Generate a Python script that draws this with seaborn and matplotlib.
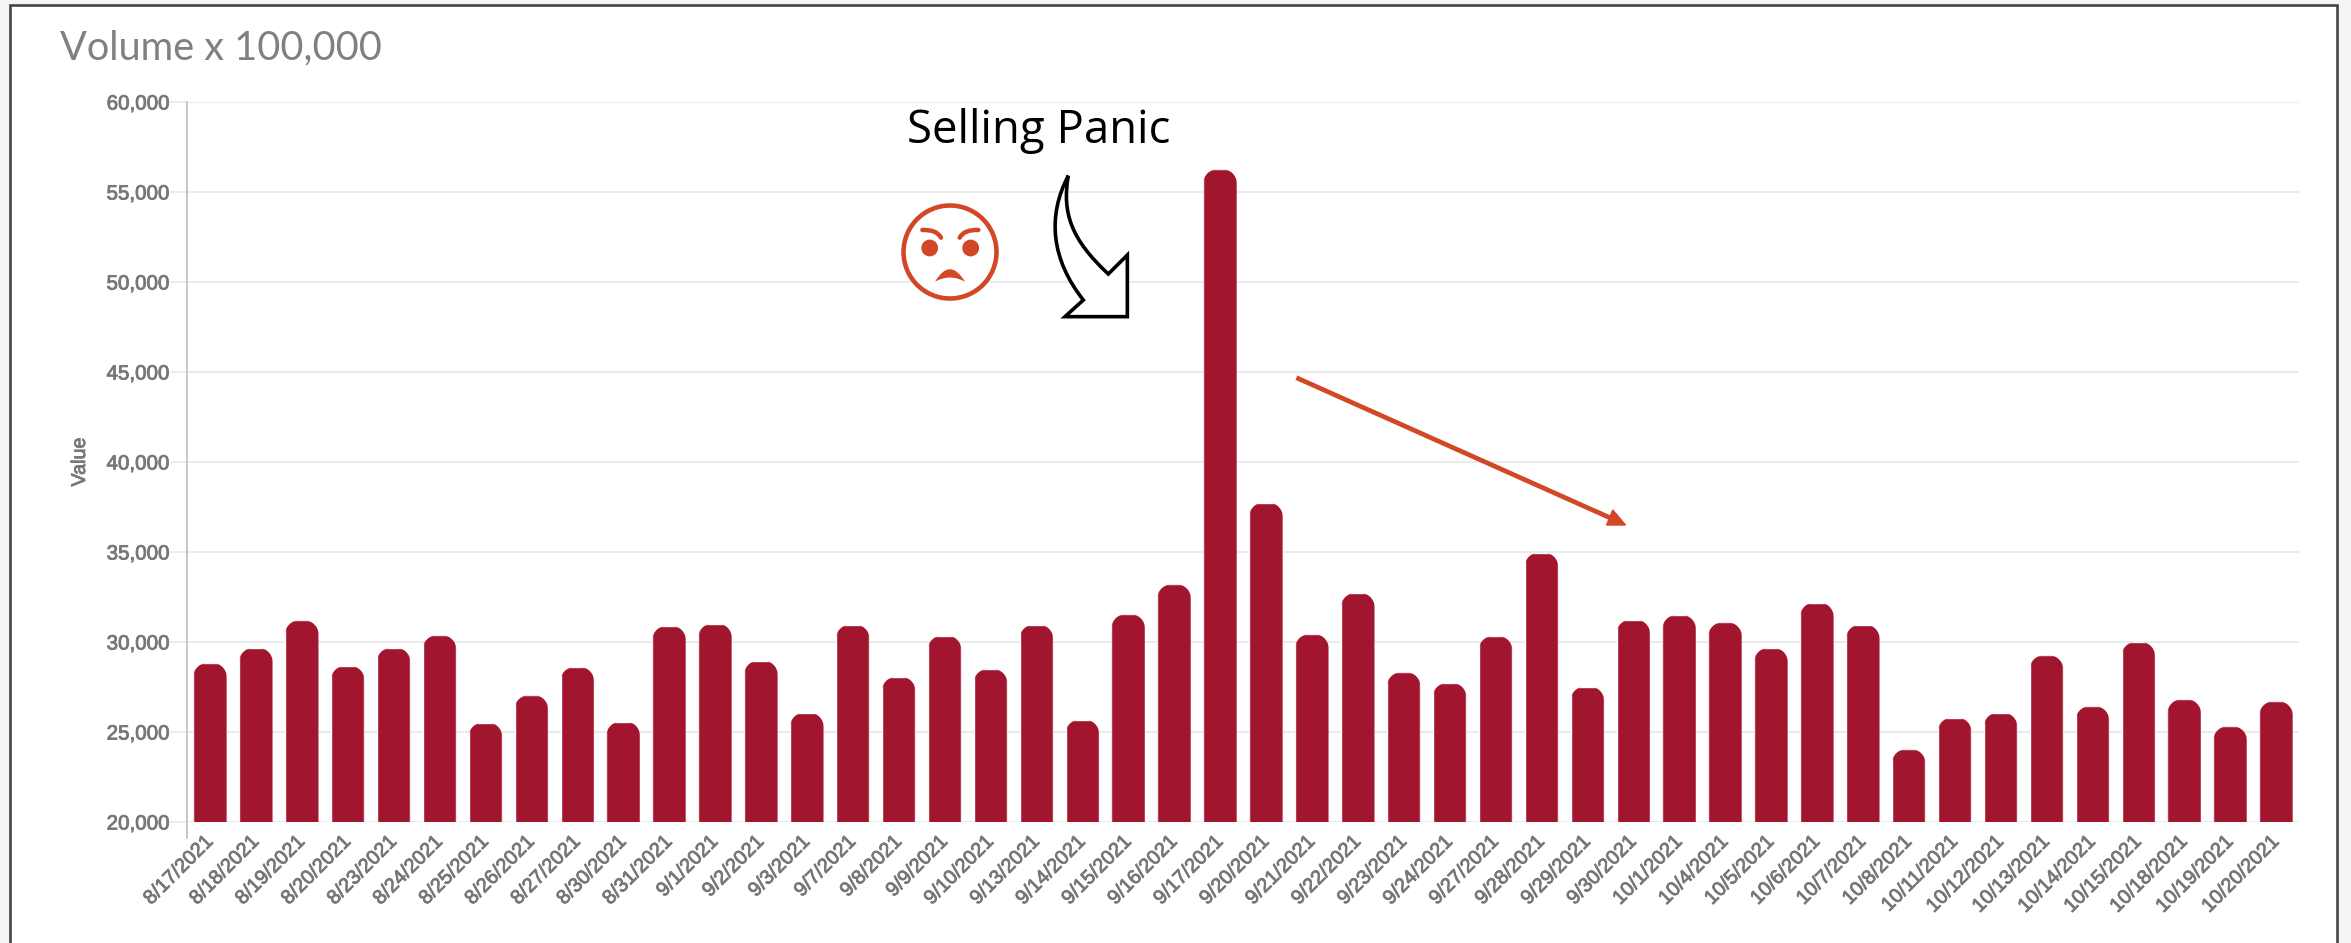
import matplotlib
matplotlib.use("Agg")
import matplotlib.pyplot as plt
import matplotlib.patheffects as pe
import seaborn as sns
import pandas as pd
from matplotlib.path import Path
from matplotlib.patches import PathPatch, Circle, Rectangle, Polygon
from matplotlib.ticker import FuncFormatter

dates = ["8/17/2021","8/18/2021","8/19/2021","8/20/2021","8/23/2021","8/24/2021","8/25/2021","8/26/2021",
         "8/27/2021","8/30/2021","8/31/2021","9/1/2021","9/2/2021","9/3/2021","9/7/2021","9/8/2021",
         "9/9/2021","9/10/2021","9/13/2021","9/14/2021","9/15/2021","9/16/2021","9/17/2021","9/20/2021",
         "9/21/2021","9/22/2021","9/23/2021","9/24/2021","9/27/2021","9/28/2021","9/29/2021","9/30/2021",
         "10/1/2021","10/4/2021","10/5/2021","10/6/2021","10/7/2021","10/8/2021","10/11/2021","10/12/2021",
         "10/13/2021","10/14/2021","10/15/2021","10/18/2021","10/19/2021","10/20/2021"]
volume = [28830,29670,31200,28670,29670,30370,25520,27040,
          28610,25575,30890,31020,28960,26070,30960,28060,
          30350,28500,30960,25685,31540,33200,56260,37740,
          30430,32720,28315,27720,30330,34960,27520,31240,
          31500,31090,29670,32185,30960,24040,25800,26070,
          29260,26430,30000,26815,25315,26700]
y_ticks = [20000,25000,30000,35000,40000,45000,50000,55000,60000]

W, H = 2351, 943
GREY = "#777777"
BAR = "#A2152F"
ORANGE = "#D24726"

sns.set_theme(style="white")
plt.rcParams["font.family"] = ["Liberation Sans", "DejaVu Sans"]

fig = plt.figure(figsize=(W/100, H/100), dpi=100, facecolor="#f5f5f5")

back = fig.add_axes([0, 0, 1, 1], zorder=-1)
back.set_xlim(0, W); back.set_ylim(H, 0); back.axis("off")
back.add_patch(Rectangle((9.5, 4.5), 2337-9.5, H, facecolor="white", edgecolor="#454545", linewidth=1.9))

L, R, T, B = 187, 2299, 102, 822
ax = fig.add_axes([L/W, 1-B/H, (R-L)/W, (B-T)/H], zorder=1)
ax.patch.set_alpha(0)
df = pd.DataFrame({"date": dates, "volume": volume})
sns.barplot(data=df, x="date", y="volume", color=BAR, saturation=1, width=0.73, ax=ax, zorder=3)
ax.set_xlim(-0.5, len(dates)-0.5)
ax.set_ylim(20000, 60000)
ax.set_yticks(y_ticks)
ax.yaxis.set_major_formatter(FuncFormatter(lambda v, _: f"{int(v):,}"))
ax.grid(axis="y", color="#ebebeb", linewidth=1.5, zorder=0)
ax.set_axisbelow(True)
for s in ax.spines.values():
    s.set_visible(False)
ax.tick_params(axis="y", length=12.5, width=1.3, color="#ebebeb", pad=0, labelsize=14.8, labelcolor=GREY, left=True)
ax.tick_params(axis="x", length=0, pad=12, labelsize=14.4, labelcolor=GREY, bottom=False)
ax.set_xticks(range(len(dates)))
ax.set_xticklabels(dates, rotation=45, ha="right", va="center", rotation_mode="anchor")
ax.set_xlabel("")
ax.set_ylabel("Value", fontsize=14.2, color=GREY, fontweight="normal")
ax.yaxis.set_label_coords((89-L)/(R-L), (B-462)/(B-T))
bold = [pe.withStroke(linewidth=0.6, foreground=GREY)]
for t in ax.get_xticklabels() + ax.get_yticklabels() + [ax.yaxis.label]:
    t.set_path_effects(bold)

px_x = (R-L)/len(dates)
px_y = (B-T)/40000
r = 14
for rect in ax.patches:
    x0, w, top = rect.get_x(), rect.get_width(), rect.get_height()
    rx, ry = r/px_x, r/px_y
    k = 0.45
    verts = [(x0, 20000), (x0, top-ry),
             (x0, top-ry*k), (x0+rx*k, top), (x0+rx, top),
             (x0+w-rx, top),
             (x0+w-rx*k, top), (x0+w, top-ry*k), (x0+w, top-ry),
             (x0+w, 20000), (x0, 20000)]
    codes = [Path.MOVETO, Path.LINETO, Path.CURVE4, Path.CURVE4, Path.CURVE4, Path.LINETO,
             Path.CURVE4, Path.CURVE4, Path.CURVE4, Path.LINETO, Path.CLOSEPOLY]
    rect.set_clip_path(Path(verts, codes), transform=ax.transData)

ov = fig.add_axes([0, 0, 1, 1], zorder=5)
ov.set_xlim(0, W); ov.set_ylim(H, 0); ov.axis("off"); ov.patch.set_alpha(0)

ov.plot([187, 187], [102, 838], color="#c4c4c4", linewidth=1.3, zorder=1)
ov.text(60, 59, "Volume x 100,000", family="Lato", fontsize=28.6, color="#808080", ha="left", va="baseline")
ov.text(907, 143, "Selling Panic", family="Open Sans", fontsize=32.8, color="black", ha="left", va="baseline")

def a(x, y):
    return (1040 + x/3, 160 + y/3)
arrow_v = [a(85,47), a(20,170), a(35,300), a(130,420), a(75,470), a(262,470), a(262,285), a(205,342),
           a(95,240), a(65,160), a(85,47)]
arrow_c = [Path.MOVETO, Path.CURVE4, Path.CURVE4, Path.CURVE4, Path.LINETO, Path.LINETO, Path.LINETO, Path.LINETO,
           Path.CURVE4, Path.CURVE4, Path.CURVE4]
ov.add_patch(PathPatch(Path(arrow_v, arrow_c), facecolor="white", edgecolor="black", linewidth=2.6, joinstyle="miter"))

def f(x, y):
    return (880 + x/3, 190 + y/3)
ov.add_patch(Circle(f(210,186), 46.5, facecolor="white", edgecolor=ORANGE, linewidth=3.3))
ov.add_patch(Circle(f(149,174), 7.7, color=ORANGE))
ov.add_patch(Circle(f(272,174), 7.7, color=ORANGE))
for pts in ([f(127,120), f(170,118), f(183,143)], [f(295,120), f(252,118), f(239,143)]):
    ov.add_patch(PathPatch(Path(pts, [Path.MOVETO, Path.CURVE3, Path.CURVE3]), facecolor="none",
                           edgecolor=ORANGE, linewidth=3.2, capstyle="round"))
mouth = [f(165,275), f(210,200), f(255,275), f(210,250), f(165,275)]
ov.add_patch(PathPatch(Path(mouth, [Path.MOVETO, Path.CURVE3, Path.CURVE3, Path.CURVE3, Path.CURVE3]),
                       facecolor=ORANGE, edgecolor="none"))

ov.plot([1296.4, 1615], [377.7, 520], color=ORANGE, linewidth=3.4, solid_capstyle="butt")
ov.add_patch(Polygon([(1612.8, 510), (1625.5, 525), (1606.6, 525)], closed=True, color=ORANGE))

fig.savefig("out.png", dpi=100, facecolor=fig.get_facecolor())
